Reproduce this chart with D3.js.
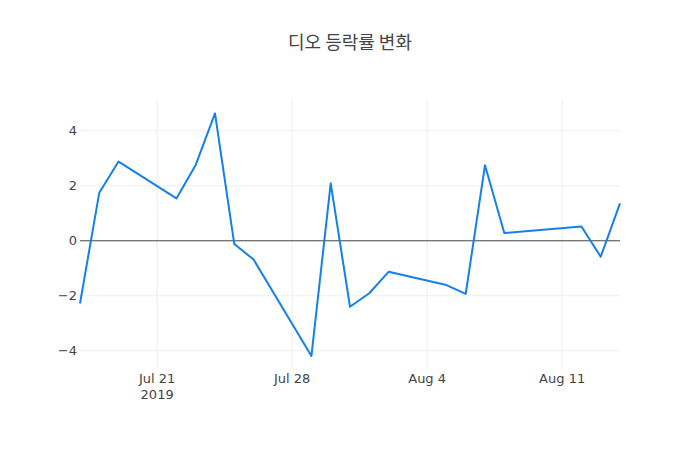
<!DOCTYPE html>
<html>
<head>
<meta charset="utf-8">
<script src="https://cdn.jsdelivr.net/npm/d3@7"></script>
<style>
  body { margin: 0; background: #fff; }
  text { font-family: "DejaVu Sans", "Noto Sans CJK KR", sans-serif; }
  text.title { font-family: "Noto Sans CJK KR", sans-serif; }
</style>
</head>
<body>
<svg id="chart" width="700" height="450"></svg>
<script>
const title = "디오 등락률 변화";
const dates = ["2019-07-17","2019-07-18","2019-07-19","2019-07-22","2019-07-23","2019-07-24","2019-07-25","2019-07-26",
  "2019-07-29","2019-07-30","2019-07-31","2019-08-01","2019-08-02","2019-08-05","2019-08-06","2019-08-07","2019-08-08",
  "2019-08-12","2019-08-13","2019-08-14"];
const changes = [-2.28, 1.75, 2.88, 1.54, 2.76, 4.63, -0.12, -0.68,
  -4.19, 2.09, -2.40, -1.91, -1.13, -1.61, -1.93, 2.75, 0.28,
  0.52, -0.58, 1.36];
const xTickDates = ["2019-07-21","2019-07-28","2019-08-04","2019-08-11"];
const xTickLabels = [["Jul 21","2019"],["Jul 28"],["Aug 4"],["Aug 11"]];
const yTicks = [-4, -2, 0, 2, 4];
const xRange = ["2019-07-17","2019-08-14"];
const yRange = [-4.70, 5.12];

const parse = d3.utcParse("%Y-%m-%d");
const data = dates.map((d, i) => ({ date: parse(d), value: changes[i] }));

const svg = d3.select("#chart");
const margin = { left: 80, right: 80, top: 100, bottom: 80 };
const W = 700, H = 450;
const x = d3.scaleUtc().domain(xRange.map(parse)).range([margin.left, W - margin.right]);
const y = d3.scaleLinear().domain(yRange).range([H - margin.bottom, margin.top]);

// grid
const g = svg.append("g");
g.selectAll("line.vgrid").data(xTickDates).enter().append("line")
  .attr("x1", d => x(parse(d))).attr("x2", d => x(parse(d)))
  .attr("y1", margin.top).attr("y2", H - margin.bottom)
  .attr("stroke", "#eee").attr("stroke-width", 1);
g.selectAll("line.hgrid").data(yTicks.filter(v => v !== 0)).enter().append("line")
  .attr("x1", margin.left).attr("x2", W - margin.right)
  .attr("y1", d => y(d)).attr("y2", d => y(d))
  .attr("stroke", "#eee").attr("stroke-width", 1);

// zero line
g.append("line")
  .attr("x1", margin.left).attr("x2", W - margin.right)
  .attr("y1", y(0)).attr("y2", y(0))
  .attr("stroke", "#444").attr("stroke-width", 1);

// y tick labels
svg.append("g").selectAll("text").data(yTicks).enter().append("text")
  .attr("x", margin.left - 3).attr("y", d => y(d)).attr("dy", "0.36em")
  .attr("text-anchor", "end").attr("font-size", 13).attr("fill", "#444")
  .text(d => d < 0 ? "\u2212" + Math.abs(d) : d);

// x tick labels
const xl = svg.append("g").selectAll("text").data(xTickDates).enter().append("text")
  .attr("x", d => x(parse(d))).attr("y", H - margin.bottom + 13)
  .attr("text-anchor", "middle").attr("font-size", 13).attr("fill", "#444");
xl.each(function(d, i) {
  const t = d3.select(this);
  xTickLabels[i].forEach((s, j) => {
    t.append("tspan").attr("x", x(parse(d))).attr("dy", j === 0 ? "0" : "16").text(s);
  });
});

// line
const line = d3.line().x(d => x(d.date)).y(d => y(d.value));
svg.append("path").datum(data)
  .attr("d", line).attr("fill", "none")
  .attr("stroke", "#1580e8").attr("stroke-width", 2)
  .attr("stroke-linejoin", "round");

// title
svg.append("text").attr("class", "title").attr("x", W / 2).attr("y", 49)
  .attr("text-anchor", "middle").attr("font-size", 18).attr("fill", "#444")
  .text(title);
</script>
</body>
</html>
